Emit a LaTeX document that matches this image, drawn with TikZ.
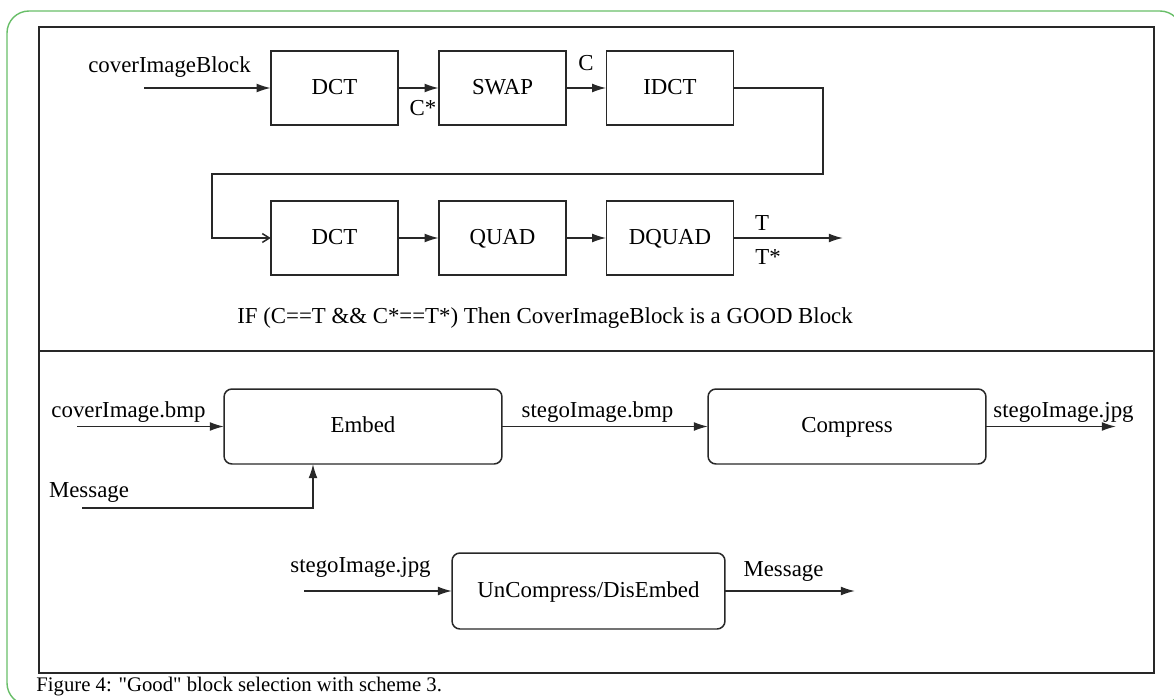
\documentclass[tikz,border=0pt]{standalone}
\usepackage{fontspec}
\setmainfont{Liberation Serif}
\newfontfamily\capfont{Liberation Serif}
\usepackage{tikz}
\usetikzlibrary{arrows.meta, positioning, calc}
\definecolor{framegreen}{RGB}{104, 190, 104}
\definecolor{linegray}{RGB}{40, 40, 40}

\tikzset{
	blk/.style={draw=linegray, line width=0.85pt, minimum width=2.55cm, minimum height=1.48cm,
		inner sep=0pt, outer sep=0pt, text height=1.6ex, text depth=0.1ex, font=\fontsize{13}{15}\selectfont},
	rblk/.style={blk, rounded corners=4.5pt, minimum width=5.56cm, minimum height=1.5cm},
	lbl/.style={inner sep=0pt, font=\fontsize{13}{15}\selectfont},
	flow/.style={draw=linegray, line width=0.85pt, -{Latex[length=8pt, width=5pt]}},
}

\begin{document}
\begin{tikzpicture}[x=0.02cm, y=-0.02cm]
	\useasboundingbox (0,0) rectangle (1174,700);
	\draw[framegreen, line width=0.8pt, rounded corners=0.44cm] (7,11) rectangle (1182,705);
	\draw[linegray, line width=1.1pt] (39,27) rectangle (1154,673);
	\draw[linegray, line width=1.1pt] (39,351) -- (1154,351);

	% block test
	\node[blk] (dctA) at (334.5,88) {DCT};
	\node[blk] (swap) at (502.5,88) {SWAP};
	\node[blk] (idct) at (670,88) {IDCT};
	\node[blk] (dctB) at (334.5,238) {DCT};
	\node[blk] (quad) at (502.5,238) {QUAD};
	\node[blk] (dquad) at (670,238) {DQUAD};
	\coordinate (inA) at (144,88);
	\coordinate (turnR) at (823,174);
	\coordinate (turnL) at (212,238);
	\coordinate (outT) at (843,238);
	\draw[flow] (inA) -- (dctA);
	\draw[flow] (dctA) -- (swap);
	\draw[flow] (swap) -- (idct);
	\draw[flow, -{Straight Barb[length=4pt, width=5pt]}] (idct.east) -| (turnR) -| (turnL) -- (dctB.west);
	\draw[flow] (dctB) -- (quad);
	\draw[flow] (quad) -- (dquad);
	\draw[flow] (dquad) -- (outT);
	\node[lbl] (lblBlock) at (169.5,67) {coverImageBlock};
	\node[lbl] (lblCs) at (423,108) {C*};
	\node[lbl] (lblC) at (586,63) {C};
	\node[lbl] (lblT) at (762,223) {T};
	\node[lbl] (lblTs) at (768,257) {T*};
	\node[lbl] (rule) at (545,318) {IF (C==T \&\& C*==T*) Then CoverImageBlock is a GOOD Block};

	% embed and extract
	\node[rblk] (embed) at (363,426.5) {Embed};
	\node[rblk] (compress) at (847,426.5) {Compress};
	\node[rblk, minimum width=5.46cm, minimum height=1.52cm] (uncomp) at (588.5,591) {UnCompress/DisEmbed};
	\coordinate (inCover) at (77,426.5);
	\coordinate (inMsg) at (82,508);
	\coordinate (msgTurn) at (313,508);
	\coordinate (outJpg) at (1116,426.5);
	\coordinate (inJpg) at (304,591);
	\coordinate (outMsg) at (855,591);
	\draw[flow] (inCover) -- (embed);
	\draw[flow] (inMsg) -- (msgTurn) -- (msgTurn |- embed.south);
	\draw[flow] (embed) -- (compress);
	\draw[flow] (compress) -- (outJpg);
	\draw[flow] (inJpg) -- (uncomp);
	\draw[flow] (uncomp) -- (outMsg);
	\node[lbl] (lblCover) at (128.5,412) {coverImage.bmp};
	\node[lbl] (lblMsg) at (89,492) {Message};
	\node[lbl] (lblBmp) at (597.5,412) {stegoImage.bmp};
	\node[lbl] (lblJpg) at (1063.5,412) {stegoImage.jpg};
	\node[lbl] (lblJpgIn) at (360.5,567) {stegoImage.jpg};
	\node[lbl] (lblMsgOut) at (783.5,571) {Message};

	\node[anchor=west, inner sep=0pt, font=\capfont\fontsize{11.8}{14}\selectfont] (caption) at (36,687)
		{Figure 4: "Good" block selection with scheme 3.};
\end{tikzpicture}
\end{document}
